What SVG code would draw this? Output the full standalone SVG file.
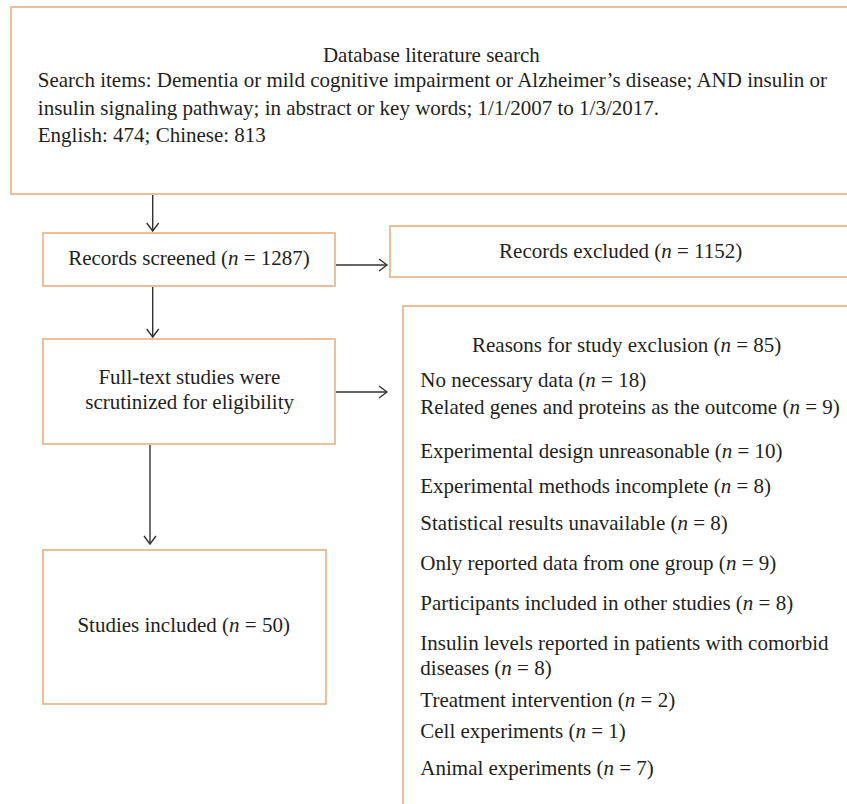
<svg xmlns="http://www.w3.org/2000/svg" width="847" height="804" viewBox="0 0 847 804">
<style>
.box{fill:#fff;stroke:#E9B48C;stroke-width:1.7}
.t{font-family:"Liberation Serif","Times New Roman",serif;font-size:21px;fill:#231F20}
.c{text-anchor:middle}
.i{font-style:italic}
.conn{stroke:#333;stroke-width:1.4;fill:none}
</style>
<defs>
<marker id="ah" markerUnits="userSpaceOnUse" markerWidth="14" markerHeight="16" refX="9" refY="7" orient="auto">
<path d="M1,1 L9,7 L1,13" fill="none" stroke="#333" stroke-width="1.4"/>
</marker>
</defs>
<rect x="0" y="0" width="847" height="804" fill="#fff"/>
<g id="search">
<rect class="box" x="11" y="7" width="850" height="187"/>
<text class="t c" x="431.4" y="62">Database literature search</text>
<text class="t" x="37.8" y="87">Search items: Dementia or mild cognitive impairment or Alzheimer’s disease; AND insulin or</text>
<text class="t" x="37.8" y="115">insulin signaling pathway; in abstract or key words; 1/1/2007 to 1/3/2017.</text>
<text class="t" x="37.8" y="142">English: 474; Chinese: 813</text>
</g>
<g id="screened">
<rect class="box" x="43" y="233" width="292" height="53"/>
<text class="t c" x="189" y="265">Records screened (<tspan class="i">n</tspan> = 1287)</text>
</g>
<g id="excluded">
<rect class="box" x="390" y="226" width="470" height="51"/>
<text class="t c" x="620.7" y="258">Records excluded (<tspan class="i">n</tspan> = 1152)</text>
</g>
<g id="fulltext">
<rect class="box" x="43" y="339" width="292" height="105"/>
<text class="t c" x="189.4" y="384">Full-text studies were</text>
<text class="t c" x="189.6" y="409">scrutinized for eligibility</text>
</g>
<g id="reasons">
<rect class="box" x="403" y="306" width="460" height="520"/>
<text class="t c" x="626.7" y="352">Reasons for study exclusion (<tspan class="i">n</tspan> = 85)</text>
<text class="t" x="420.3" y="387">No necessary data (<tspan class="i">n</tspan> = 18)</text>
<text class="t" x="420.3" y="414">Related genes and proteins as the outcome (<tspan class="i">n</tspan> = 9)</text>
<text class="t" x="420.3" y="458">Experimental design unreasonable (<tspan class="i">n</tspan> = 10)</text>
<text class="t" x="420.3" y="493">Experimental methods incomplete (<tspan class="i">n</tspan> = 8)</text>
<text class="t" x="420.3" y="530">Statistical results unavailable (<tspan class="i">n</tspan> = 8)</text>
<text class="t" x="420.3" y="570">Only reported data from one group (<tspan class="i">n</tspan> = 9)</text>
<text class="t" x="420.3" y="610">Participants included in other studies (<tspan class="i">n</tspan> = 8)</text>
<text class="t" x="420.3" y="650">Insulin levels reported in patients with comorbid</text>
<text class="t" x="420.3" y="675">diseases (<tspan class="i">n</tspan> = 8)</text>
<text class="t" x="420.3" y="707">Treatment intervention (<tspan class="i">n</tspan> = 2)</text>
<text class="t" x="420.3" y="738">Cell experiments (<tspan class="i">n</tspan> = 1)</text>
<text class="t" x="420.3" y="775">Animal experiments (<tspan class="i">n</tspan> = 7)</text>
</g>
<g id="included">
<rect class="box" x="43" y="550" width="283" height="154"/>
<text class="t c" x="183.7" y="632">Studies included (<tspan class="i">n</tspan> = 50)</text>
</g>
<g id="connectors">
<line class="conn" x1="152.7" y1="195" x2="152.7" y2="231" marker-end="url(#ah)"/>
<line class="conn" x1="152.7" y1="287" x2="152.7" y2="337" marker-end="url(#ah)"/>
<line class="conn" x1="150" y1="445" x2="150" y2="544" marker-end="url(#ah)"/>
<line class="conn" x1="336" y1="265" x2="387" y2="265" marker-end="url(#ah)"/>
<line class="conn" x1="336" y1="392" x2="387" y2="392" marker-end="url(#ah)"/>
</g>
</svg>
